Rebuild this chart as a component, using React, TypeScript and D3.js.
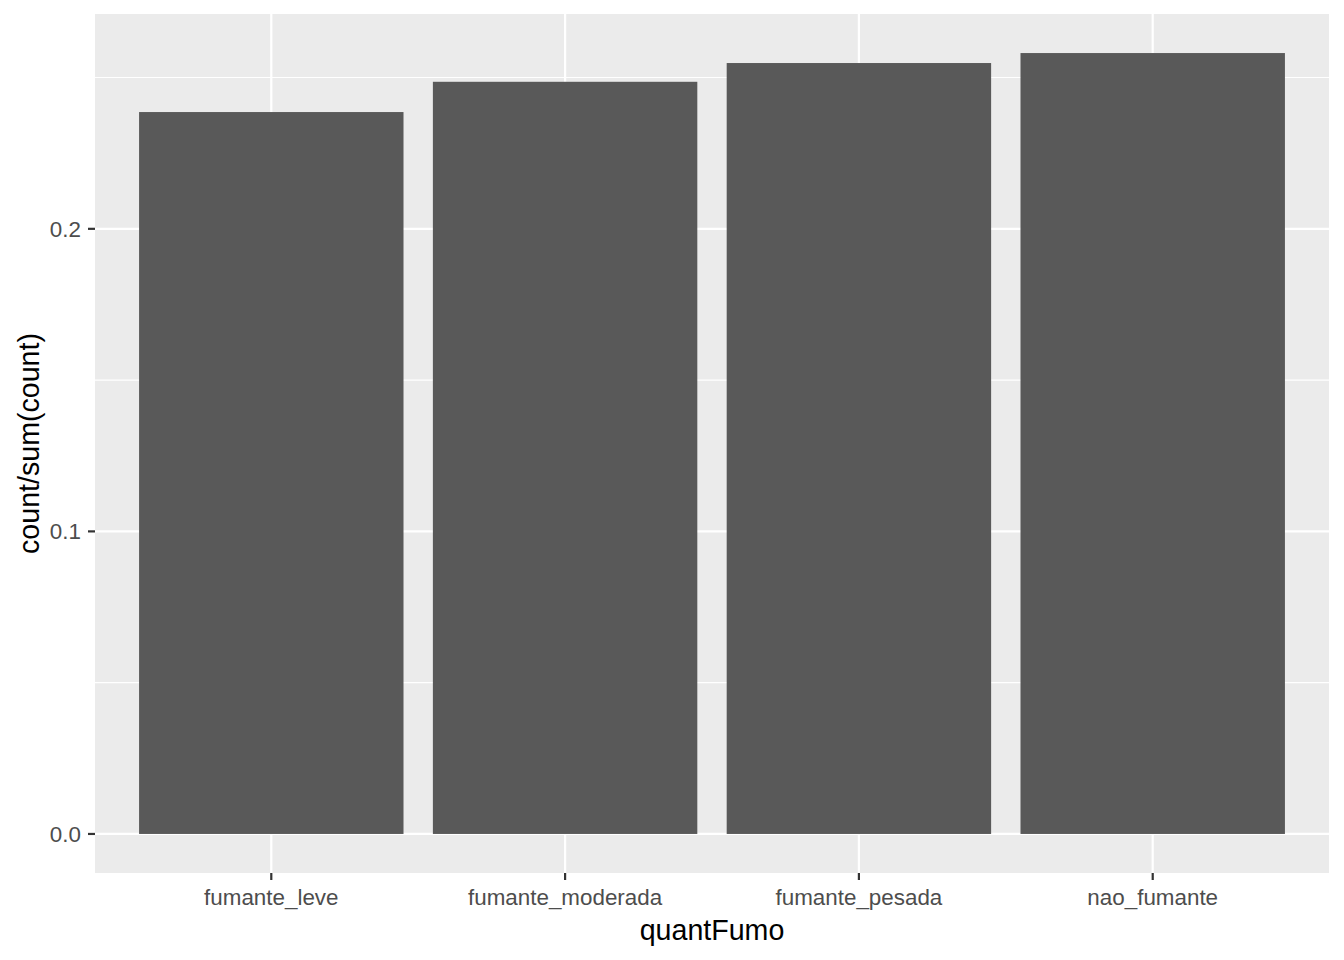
import React from 'react'
import * as d3 from 'd3';

const categories = ['fumante_leve', 'fumante_moderada', 'fumante_pesada', 'nao_fumante'];
const proportions = [0.2386, 0.2486, 0.2548, 0.2581];
const yTicks = [0, 0.1, 0.2];
const yMinor = [0.05, 0.15, 0.25];

const App: React.FC = () => {
  const width = 1344;
  const height = 960;
  const panel = { left: 95, right: 1329, top: 14, bottom: 873 };
  const font = '"Liberation Sans", Arial, sans-serif';

  const maxV = d3.max(proportions) as number;
  const pad = maxV * 0.05;
  const y = d3.scaleLinear()
    .domain([-pad, maxV + pad])
    .range([panel.bottom, panel.top]);

  // discrete axis with ggplot's 0.6 unit expansion
  const x = d3.scaleLinear()
    .domain([0.4, categories.length + 0.6])
    .range([panel.left, panel.right]);
  const barW = x(1.45) - x(1);

  return (
    <svg width={width} height={height} style={{ display: 'block', position: 'absolute', left: 0, top: 0 }}>
      <rect x={0} y={0} width={width} height={height} fill='#FFFFFF' />
      <rect x={panel.left} y={panel.top} width={panel.right - panel.left} height={panel.bottom - panel.top} fill='#EBEBEB' />
      {yMinor.map(v => (
        <line key={'mn' + v} x1={panel.left} x2={panel.right} y1={y(v)} y2={y(v)} stroke='#FFFFFF' strokeWidth={1.1} />
      ))}
      {yTicks.map(v => (
        <line key={'mj' + v} x1={panel.left} x2={panel.right} y1={y(v)} y2={y(v)} stroke='#FFFFFF' strokeWidth={2.2} />
      ))}
      {categories.map((c, i) => (
        <line key={'vx' + c} x1={x(i + 1)} x2={x(i + 1)} y1={panel.top} y2={panel.bottom} stroke='#FFFFFF' strokeWidth={2.2} />
      ))}
      {categories.map((c, i) => (
        <rect
          key={'bar' + c}
          x={x(i + 1) - barW}
          y={y(proportions[i])}
          width={barW * 2}
          height={y(0) - y(proportions[i])}
          fill='#595959'
        />
      ))}
      {yTicks.map(v => (
        <g key={'yt' + v}>
          <line x1={panel.left - 7} x2={panel.left} y1={y(v)} y2={y(v)} stroke='#333333' strokeWidth={2.2} />
          <text
            x={panel.left - 14}
            y={y(v)}
            dy='0.36em'
            textAnchor='end'
            fontFamily={font}
            fontSize={22.4}
            fill='#4D4D4D'
          >
            {v.toFixed(1)}
          </text>
        </g>
      ))}
      {categories.map((c, i) => (
        <g key={'xt' + c}>
          <line x1={x(i + 1)} x2={x(i + 1)} y1={panel.bottom} y2={panel.bottom + 7} stroke='#333333' strokeWidth={2.2} />
          <text
            x={x(i + 1)}
            y={905}
            textAnchor='middle'
            fontFamily={font}
            fontSize={22.4}
            fill='#4D4D4D'
          >
            {c}
          </text>
        </g>
      ))}
      <text x={(panel.left + panel.right) / 2} y={940} textAnchor='middle' fontFamily={font} fontSize={28.6} fill='#000000'>
        quantFumo
      </text>
      <text
        transform={`translate(39, ${(panel.top + panel.bottom) / 2}) rotate(-90)`}
        textAnchor='middle'
        fontFamily={font}
        fontSize={28.6}
        fill='#000000'
      >
        count/sum(count)
      </text>
    </svg>
  )
}

export default App
